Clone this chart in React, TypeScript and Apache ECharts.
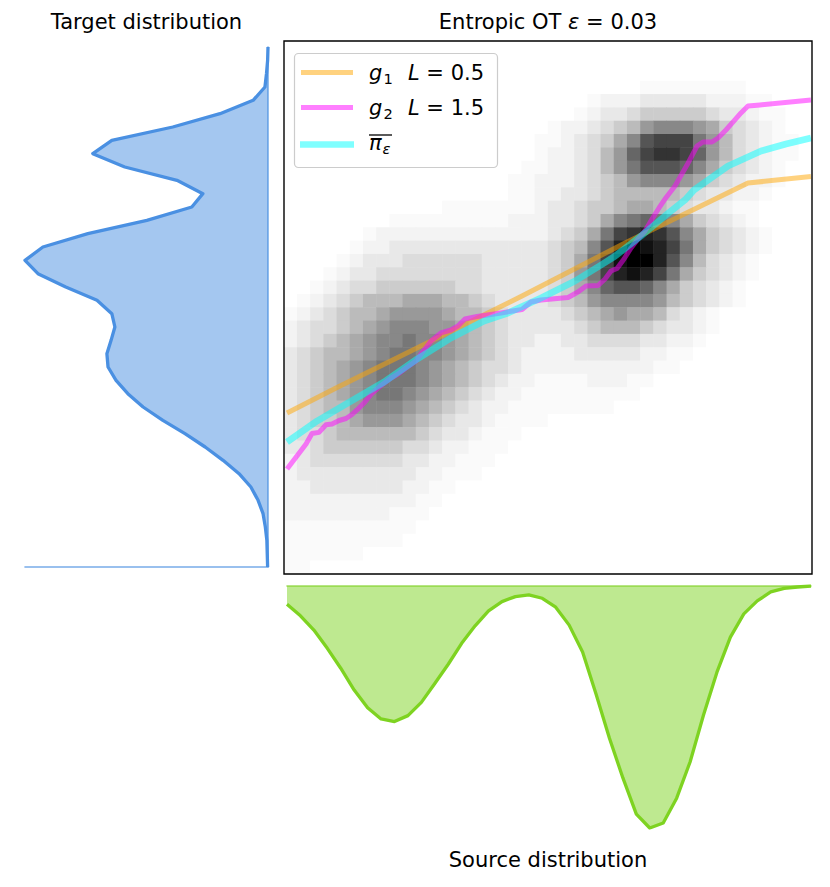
import React, { useEffect, useRef } from 'react';
import * as echarts from 'echarts';

// Transport plan intensities (row 0 = top), one char per cell,
// written in four groups of ten columns. '0'..'h' index into LEVELS (0 = white, 1 = black).
const HEAT_ROWS: string[] = [
  '0000000000 0000000000 0000000000 0000000000',
  '0000000000 0000000000 0000000000 0000000000',
  '0000000000 0000000000 0000000000 0000000000',
  '0000000000 0000000000 0000000111 1111100000',
  '0000000000 0000000000 0001222333 3322211000',
  '0000000000 0000000000 0012334555 5543321100',
  '0000000000 0000000000 1223456899 9875432100',
  '0000000000 0000000001 1234579cdd da86432110',
  '0000000000 0000000001 223468bdee db86432110',
  '0000000000 0000000011 223468accc b975432100',
  '0000000000 0000000112 2234568999 8754322100',
  '0000000000 0000000112 2334566666 5433221000',
  '0000000000 0011111112 3345567765 4332110000',
  '0000000011 1111111222 334579aba9 7543210000',
  '0000001222 2222222222 3457adefec 9754321000',
  '0000012233 3333333333 4569cfhgfd a754321000',
  '0000123334 4444433333 457adghhfc 9643210000',
  '0001233444 4444433333 458adfgfda 7543210000',
  '0012344555 5554433333 4579bccb97 5432100000',
  '0123456667 7766543333 4568999986 5432100000',
  '1234566788 8876654333 3456787764 3210000000',
  '2344567899 9887654333 3345666543 3210000000',
  '234567899a 9987654332 2334444332 2100000000',
  '34566789aa 9987654322 2233333221 1000000000',
  '3456789aaa 9876544322 2222222211 0000000000',
  '3456789aaa 9876543221 1112221100 0000000000',
  '3456789aa9 8765432211 1111111000 0000000000',
  '3456689998 7654322111 1111100000 0000000000',
  '3455678887 6543321111 0000000000 0000000000',
  '3445666666 5433211100 0000000000 0000000000',
  '3345555554 4322111000 0000000000 0000000000',
  '2344444443 3221110000 0000000000 0000000000',
  '2333333333 2211100000 0000000000 0000000000',
  '2233333332 2110000000 0000000000 0000000000',
  '2222222222 1100000000 0000000000 0000000000',
  '2222222211 1000000000 0000000000 0000000000',
  '1111111111 0000000000 0000000000 0000000000',
  '1111111110 0000000000 0000000000 0000000000',
  '1111110000 0000000000 0000000000 0000000000',
  '1100000000 0000000000 0000000000 0000000000',
];
const LEVELS = [0, 0.0196, 0.047, 0.0902, 0.137, 0.2, 0.267, 0.333, 0.4, 0.467, 0.533, 0.6, 0.667, 0.733, 0.8, 0.867, 0.933, 1];

// Target distribution (top -> bottom), 40 bins
const TARGET = [
  0.0, 0.0001, 0.0004, 0.0008, 0.0039, 0.0126, 0.025, 0.041, 0.046, 0.0376,
  0.0239, 0.0171, 0.02, 0.0318, 0.0473, 0.0591, 0.0638, 0.0604, 0.0531, 0.0449,
  0.041, 0.0402, 0.0412, 0.0423, 0.042, 0.0399, 0.0368, 0.0328, 0.0276, 0.0218,
  0.0165, 0.0118, 0.0076, 0.0045, 0.0026, 0.0013, 0.0007, 0.0003, 0.0002, 0.0001,
];
// Source distribution (left -> right), 40 bins
const SOURCE = [
  0.0055, 0.009, 0.0133, 0.0188, 0.0248, 0.0314, 0.0367, 0.0401, 0.0409, 0.0391,
  0.0351, 0.0294, 0.0236, 0.0173, 0.012, 0.0075, 0.0047, 0.0032, 0.0027, 0.0037,
  0.0064, 0.0118, 0.0199, 0.0326, 0.0459, 0.0579, 0.0688, 0.073, 0.0715, 0.064,
  0.0531, 0.0389, 0.026, 0.0154, 0.0084, 0.0045, 0.0018, 0.0007, 0.0003, 0.0,
];

// Maps in grid-cell units: x = source index (0..40), y = target index from bottom (0..40)
const G1: number[][] = [
  [0.23, 12.08], [4.02, 14.0], [18.03, 20.86], [25.99, 24.92], [35.15, 29.34], [39.92, 29.83],
];
const G2: number[][] = [
  [0.23, 7.88], [0.98, 8.86], [1.67, 9.76], [2.12, 10.54], [2.65, 10.63], [3.18, 11.2],
  [3.64, 11.26], [4.17, 11.52], [4.7, 11.67], [5.15, 11.97], [5.53, 12.31], [6.06, 12.83],
  [6.59, 13.47], [7.35, 14.15], [8.11, 14.71], [8.64, 15.01], [9.24, 15.46], [10.0, 15.98],
  [10.61, 16.81], [11.14, 17.49], [11.89, 18.09], [12.65, 18.31], [13.18, 18.61], [13.71, 19.14],
  [14.62, 19.32], [16.44, 19.59], [18.03, 19.85], [18.71, 20.41], [19.47, 20.56], [21.52, 20.75],
  [22.27, 21.16], [22.88, 21.61], [23.79, 21.65], [24.32, 22.14], [24.77, 22.74], [25.23, 22.93],
  [25.76, 23.64], [26.29, 24.47], [26.82, 25.14], [27.35, 25.74], [27.88, 26.64], [28.41, 27.47],
  [28.86, 28.14], [29.62, 29.12], [30.53, 30.69], [31.29, 32.12], [31.74, 32.42], [32.42, 32.42],
  [32.88, 32.72], [33.48, 33.32], [34.09, 34.0], [34.62, 34.6], [35.15, 35.12], [36.06, 35.2],
  [39.92, 35.57],
];
const PI_BAR: number[][] = [
  [0.23, 9.91], [2.5, 11.48], [5.08, 12.98], [7.58, 14.41], [10.08, 16.13], [12.65, 17.71],
  [15.15, 18.99], [16.97, 19.59], [19.47, 20.71], [22.05, 21.99], [24.02, 23.19], [25.08, 23.86],
  [27.05, 25.37], [28.86, 26.87], [30.38, 28.07], [31.06, 28.82], [33.64, 30.62], [36.14, 31.74],
  [38.03, 32.27], [39.92, 32.72],
];

const IDX40 = Array.from({ length: 40 }, (_, i) => String(i));
const FONT = '"DejaVu Sans", sans-serif';
const ORANGE = 'rgba(255,165,0,0.5)';
const MAGENTA = 'rgba(255,0,255,0.5)';
const CYAN = 'rgba(0,255,255,0.5)';

function txt(x: number, y: number, text: string, size: number, italic: boolean, align: string, rich?: any) {
  return {
    type: 'text',
    x,
    y,
    z: 120,
    silent: true,
    style: {
      text,
      fill: '#000',
      font: `${italic ? 'italic ' : ''}${size}px ${FONT}`,
      align,
      verticalAlign: 'middle',
      textAlign: align,
      textVerticalAlign: 'middle',
      rich,
    },
  };
}

export default function App() {
  const ref = useRef<HTMLDivElement>(null);
  useEffect(() => {
    if (!ref.current) return;
    const chart = echarts.init(ref.current, null, { renderer: 'svg' });

    const heatData: number[][] = [];
    HEAT_ROWS.forEach((row, r) => {
      const s = row.replace(/ /g, '').padEnd(40, '0').slice(0, 40);
      for (let c = 0; c < 40; c++) {
        const idx = parseInt(s[c], 18);
        heatData.push([c, r, LEVELS[isNaN(idx) ? 0 : idx]]);
      }
    });

    const hidden = { show: false };
    const mathRich = { i: { fontStyle: 'italic', fontFamily: FONT, fontSize: 21 } };

    const option: any = {
      animation: false,
      backgroundColor: '#ffffff',
      grid: [
        { left: 284, top: 41, width: 528, height: 533 },
        { left: 25, top: 47, width: 243, height: 520 },
        { left: 287, top: 586, width: 524, height: 242 },
      ],
      xAxis: [
        { gridIndex: 0, type: 'category', data: IDX40, show: false },
        { gridIndex: 0, type: 'value', min: 0, max: 40, show: false },
        {
          gridIndex: 1, type: 'value', min: 0, max: Math.max(...TARGET), inverse: true,
          axisLine: { show: true, onZero: false, lineStyle: { color: '#78ace9', width: 1.6 } },
          axisTick: hidden, axisLabel: hidden, splitLine: hidden,
        },
        {
          gridIndex: 2, type: 'category', data: IDX40, boundaryGap: false, position: 'top',
          axisLine: { show: true, onZero: false, lineStyle: { color: '#a0db5e', width: 1.6 } },
          axisTick: hidden, axisLabel: hidden, splitLine: hidden,
        },
      ],
      yAxis: [
        { gridIndex: 0, type: 'category', data: IDX40, inverse: true, show: false },
        { gridIndex: 0, type: 'value', min: 0, max: 40, show: false },
        {
          gridIndex: 1, type: 'category', data: IDX40, inverse: true, boundaryGap: false, position: 'right',
          axisLine: { show: true, onZero: false, lineStyle: { color: '#78ace9', width: 1.6 } },
          axisTick: hidden, axisLabel: hidden, splitLine: hidden,
        },
        { gridIndex: 2, type: 'value', min: 0, max: Math.max(...SOURCE), inverse: true, show: false },
      ],
      visualMap: [{
        type: 'continuous', seriesIndex: 0, dimension: 2, min: 0, max: 1, show: false,
        inRange: { color: ['#ffffff', '#000000'] },
      }],
      series: [
        {
          type: 'heatmap', xAxisIndex: 0, yAxisIndex: 0, data: heatData, progressive: 0,
          emphasis: { disabled: true }, silent: true, z: 1,
        },
        {
          type: 'line', name: 'g1', xAxisIndex: 1, yAxisIndex: 1, data: G1, symbol: 'none', silent: true, z: 3,
          color: ORANGE, lineStyle: { color: ORANGE, width: 5, join: 'round' },
        },
        {
          type: 'line', name: 'g2', xAxisIndex: 1, yAxisIndex: 1, data: G2, symbol: 'none', silent: true, z: 3,
          color: MAGENTA, lineStyle: { color: MAGENTA, width: 5, join: 'round' },
        },
        {
          type: 'line', name: 'pi', xAxisIndex: 1, yAxisIndex: 1, data: PI_BAR, symbol: 'none', silent: true, z: 3,
          color: CYAN, lineStyle: { color: CYAN, width: 6.7, join: 'round' },
        },
        {
          type: 'line', xAxisIndex: 2, yAxisIndex: 2, data: TARGET.map((v, k) => [v, k]), symbol: 'none', silent: true,
          color: '#4A90E2', lineStyle: { color: '#4A90E2', width: 3.3, join: 'round' },
          areaStyle: { color: '#4A90E2', opacity: 0.5 }, z: 3,
        },
        {
          type: 'line', xAxisIndex: 3, yAxisIndex: 3, data: SOURCE.map((v, i) => [i, v]), symbol: 'none', silent: true,
          color: '#7ED321', lineStyle: { color: '#7ED321', width: 3.3, join: 'round' },
          areaStyle: { color: '#7ED321', opacity: 0.5 }, z: 3,
        },
      ],
      graphic: {
        elements: [
          {
            type: 'rect', z: 110, silent: true,
            shape: { x: 284, y: 41, width: 528, height: 533 },
            style: { fill: 'none', stroke: '#000', lineWidth: 1.4 },
          },
          txt(146.5, 22, 'Target distribution', 21, false, 'center'),
          txt(548, 22, 'Entropic OT {i|ε} = 0.03', 21, false, 'center', mathRich),
          txt(548, 860, 'Source distribution', 21, false, 'center'),
          {
            type: 'rect', z: 115, silent: true,
            shape: { x: 294.5, y: 53.5, width: 203, height: 114, r: 4 },
            style: { fill: 'rgba(255,255,255,0.8)', stroke: '#cccccc', lineWidth: 1.2 },
          },
          { type: 'line', z: 120, silent: true, shape: { x1: 301, y1: 72.5, x2: 353, y2: 72.5 }, style: { stroke: ORANGE, lineWidth: 5 } },
          { type: 'line', z: 120, silent: true, shape: { x1: 301, y1: 107.5, x2: 353, y2: 107.5 }, style: { stroke: MAGENTA, lineWidth: 5 } },
          { type: 'line', z: 120, silent: true, shape: { x1: 300, y1: 144.5, x2: 354, y2: 144.5 }, style: { stroke: CYAN, lineWidth: 6.7 } },
          txt(369, 72.7, 'g', 21, true, 'left'),
          txt(383.5, 78.3, '1', 14.7, false, 'left'),
          txt(408, 72.7, '{i|L} = 0.5', 21, false, 'left', mathRich),
          txt(369, 107.7, 'g', 21, true, 'left'),
          txt(383.5, 113.3, '2', 14.7, false, 'left'),
          txt(408, 107.7, '{i|L} = 1.5', 21, false, 'left', mathRich),
          txt(369, 142.7, 'π', 21, true, 'left'),
          txt(382.5, 148.3, 'ε', 14.7, true, 'left'),
          { type: 'line', z: 120, silent: true, shape: { x1: 369, y1: 135, x2: 392, y2: 135 }, style: { stroke: '#000', lineWidth: 1.3 } },
        ],
      },
    };
    chart.setOption(option);
    return () => chart.dispose();
  }, []);
  return (
    <div
      ref={ref}
      style={{ position: 'fixed', left: 0, top: 0, width: 830, height: 887, background: '#fff' }}
    />
  );
}
